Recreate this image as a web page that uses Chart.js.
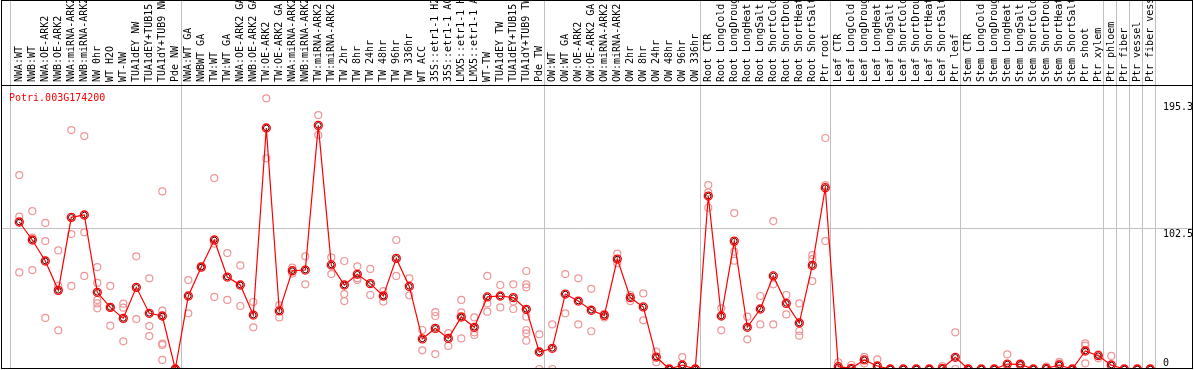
<!DOCTYPE html>
<html>
<head>
<meta charset="utf-8">
<script src="https://cdn.jsdelivr.net/npm/chart.js@4/dist/chart.umd.min.js"></script>
<style>
  body { margin: 0; background: #fff; }
  canvas { display: block; }
</style>
</head>
<body>
<canvas id="expr" width="1194" height="370"></canvas>
<script>
const geneName = 'Potri.003G174200'

const categories = [
    'NWA:WT', 'NWB:WT', 'NWA:OE-ARK2', 'NWB:OE-ARK2', 'NWA:miRNA-ARK2', 'NWB:miRNA-ARK2',
    'NW 0hr', 'WT H2O', 'WT-NW', 'TUA1dEY NW', 'TUA1dEY+TUB15', 'TUA1dY+TUB9 NW', 'Pde NW',
    'NWA:WT GA', 'NWBWT GA', 'TW:WT', 'TW:WT GA', 'NWA:OE-ARK2 GA', 'NWB:OE-ARK2 GA',
    'TW:OE-ARK2', 'TW:OE-ARK2 GA', 'NWA:miRNA-ARK2', 'NWB:miRNA-ARK2', 'TW:miRNA-ARK2',
    'TW:miRNA-ARK2', 'TW 2hr', 'TW 8hr', 'TW 24hr', 'TW 48hr', 'TW 96hr', 'TW 336hr',
    'WT ACC', '35S::etr1-1 H2', '35S::etr1-1 AC', 'LMX5::etr1-1 H', 'LMX5::etr1-1 A',
    'WT-TW', 'TUA1dEY TW', 'TUA1dEY+TUB15', 'TUA1dY+TUB9 TW', 'Pde TW',
    'OW:WT', 'OW:WT GA', 'OW:OE-ARK2', 'OW:OE-ARK2 GA', 'OW:miRNA-ARK2', 'OW:miRNA-ARK2',
    'OW 2hr', 'OW 8hr', 'OW 24hr', 'OW 48hr', 'OW 96hr', 'OW 336hr',
    'Root CTR', 'Root LongCold', 'Root LongDroug', 'Root LongHeat', 'Root LongSalt',
    'Root ShortCold', 'Root ShortDrou', 'Root ShortHeat', 'Root ShortSalt', 'Ptr root',
    'Leaf CTR', 'Leaf LongCold', 'Leaf LongDroug', 'Leaf LongHeat', 'Leaf LongSalt',
    'Leaf ShortCold', 'Leaf ShortDrou', 'Leaf ShortHeat', 'Leaf ShortSalt', 'Ptr leaf',
    'Stem CTR', 'Stem LongCold', 'Stem LongDroug', 'Stem LongHeat', 'Stem LongSalt',
    'Stem ShortCold', 'Stem ShortDrou', 'Stem ShortHeat', 'Stem ShortSalt',
    'Ptr shoot', 'Ptr xylem', 'Ptr phloem', 'Ptr fiber', 'Ptr vessel', 'Ptr fiber vess'
]

// mean expression per sample (drawn as the red line)
const meanValues = [
    107.1, 94.0, 78.7, 57.3, 110.5, 112.2, 55.9, 44.9, 36.9, 59.5, 40.6, 38.6, 0,
    53.2, 74.3, 94.0, 67.0, 61.2, 39.3, 175.6, 42.3, 71.6, 72.1, 177.5, 75.8, 61.2,
    69.0, 62.2, 53.2, 80.6, 60.2, 21.9, 29.6, 22.3, 37.9, 30.4, 52.5, 53.2, 52.0, 43.5, 12.4,
    15.1, 54.6, 49.5, 42.8, 39.1, 80.1, 52.0, 45.2, 8.7, 0, 2.9, 0,
    126.0, 38.6, 93.2, 30.4, 43.7, 67.8, 47.8, 33.5, 75.5, 132.1,
    1.7, 0.5, 6.6, 2.2, 0, 0, 0, 0, 0.5, 8.5,
    0, 0, 0, 3.6, 3.4, 0, 0.5, 2.9, 0,
    13.1, 9.7, 2.9, 0, 0, 0
]

// single replicates per sample (light circles)
const replicateValues = [
    [141.3, 111.0, 70.4], [115.1, 95.7, 72.1], [106.4, 93.2, 37.2], [86.4, 60.5, 28.2],
    [174.1, 98.3, 60.5], [169.7, 99.6, 67.8], [74.3, 62.7, 50.3, 47.8, 44.2], [60.5, 44.9, 31.6],
    [47.6, 44.7, 20.2], [82.1, 36.4], [66.1, 31.3, 24.0], [129.4, 42.5, 18.5, 17.5, 6.6], [0, 0],
    [64.8, 40.6], [75.0, 73.8], [139.1, 91.3, 52.5], [84.5, 50.3], [75.5, 45.9], [48.8, 30.4],
    [197.2, 153.5], [46.6, 37.6], [73.8, 69.5], [82.1, 61.7], [185.0, 170.5], [81.3, 69.2],
    [78.7, 54.6, 49.5], [74.8, 66.1, 64.8], [72.9, 53.9], [56.8, 49.1], [94.0, 67.8], [66.1, 53.7],
    [28.4, 13.6], [41.5, 38.6, 10.9], [26.2, 16.8], [50.3, 41.3, 22.3], [37.6, 26.7, 24.8],
    [67.8, 47.8, 41.8], [61.2, 44.9], [61.7, 49.1, 43.7], [71.4, 61.7, 59.5, 38.1, 28.4, 26.0, 20.6],
    [25.3, 0], [32.5, 0], [69.2, 40.6], [66.1, 32.5], [58.4, 27.5], [40.1, 37.6], [84.0, 77.0],
    [53.9, 49.5], [55.1, 35.5], [12.6, 4.9], [0, 0], [8.7, 0], [0, 0],
    [134.0, 128.7, 117.5], [44.2, 28.2], [113.6, 85.5, 78.9], [38.1, 21.6], [53.2, 32.5],
    [107.8, 61.7, 32.5], [53.9, 39.8], [47.8, 27.7, 24.3], [83.0, 80.1, 64.1], [168.3, 134.0, 93.2],
    [4.9, 0], [2.9, 0], [8.9, 4.1], [7.0, 0], [0, 0], [0, 0], [0, 0], [0, 0], [2.2, 0], [26.7, 0],
    [0, 0], [0, 0], [0, 0], [10.7, 0], [4.1, 2.7], [0, 0], [1.7, 0], [5.3, 4.1], [0, 0],
    [18.7, 17.0, 4.1], [10.7, 7.8], [9.5, 0], [0, 0], [0, 0], [0, 0]
]

const yTickValues = [0, 102.5, 195.3]
const groupSeparators = [-0.7, 12.4, 40.4, 52.4, 62.4, 72.4, 83.4, 84.4, 85.4, 86.4, 87.4]

const monoFont = { family: '"DejaVu Sans Mono", monospace', size: 10 }
const gridGray = 'rgb(192,192,192)'

let meanPoints = meanValues.map((v, i) => ({ x: i, y: v }))
let replicatePoints = []
for (let i = 0; i < replicateValues.length; i++) {
    for (let v of replicateValues[i]) {
        replicatePoints.push({ x: i, y: v })
    }
}

// the value labels sit just below their line, except 0 which sits above it
function yTickLabel(v) {
    if (v === 0) return ['0', '']
    return ['', String(v)]
}

const framePlugin = {
    id: 'frame',
    beforeDraw(chart) {
        const ctx = chart.ctx
        ctx.save()
        ctx.fillStyle = '#fff'
        ctx.fillRect(0, 0, chart.width, chart.height)
        ctx.restore()
    },
    beforeDatasetsDraw(chart) {
        const ctx = chart.ctx
        const xs = chart.scales.x
        ctx.save()
        ctx.strokeStyle = gridGray
        ctx.lineWidth = 1
        for (let v of groupSeparators) {
            let px = Math.round(xs.getPixelForValue(v)) + 0.5
            ctx.beginPath()
            ctx.moveTo(px, 0)
            ctx.lineTo(px, chart.chartArea.bottom)
            ctx.stroke()
        }
        ctx.restore()
    },
    afterDraw(chart) {
        const ctx = chart.ctx
        const area = chart.chartArea
        ctx.save()
        ctx.strokeStyle = '#000'
        ctx.lineWidth = 1
        ctx.strokeRect(1.5, 0.5, 1191, 368)
        ctx.beginPath()
        ctx.moveTo(1, area.top - 0.5)
        ctx.lineTo(1193, area.top - 0.5)
        ctx.stroke()
        ctx.fillStyle = 'rgb(255,0,0)'
        ctx.font = '10px "DejaVu Sans Mono", monospace'
        ctx.textBaseline = 'alphabetic'
        ctx.fillText(geneName, 9, area.top + 15)
        ctx.restore()
    }
}

const exprConfig = {
    type: 'line',
    data: {
        datasets: [{
            label: 'mean',
            data: meanPoints,
            borderColor: 'rgb(255,0,0)',
            borderWidth: 1.2,
            pointRadius: 4,
            pointBorderWidth: 1.3,
            pointBorderColor: 'rgb(255,0,0)',
            pointBackgroundColor: 'rgba(0,0,0,0)',
            tension: 0
        }, {
            // dark inner ring of the mean markers
            label: 'mean inner',
            data: meanPoints,
            showLine: false,
            pointRadius: 2.8,
            pointBorderWidth: 1,
            pointBorderColor: 'rgb(60,0,0)',
            pointBackgroundColor: 'rgba(0,0,0,0)'
        }, {
            label: 'replicates',
            data: replicatePoints,
            showLine: false,
            pointRadius: 3.5,
            pointBorderWidth: 1.2,
            pointBorderColor: 'rgb(238,150,150)',
            pointBackgroundColor: 'rgba(0,0,0,0)'
        }]
    },
    options: {
        responsive: false,
        animation: false,
        layout: { autoPadding: false, padding: { left: 1, right: 2, top: 0, bottom: 1 } },
        plugins: { legend: { display: false }, tooltip: { enabled: false } },
        scales: {
            x: {
                type: 'linear',
                position: 'top',
                min: -1.408,
                max: 87.44,
                afterBuildTicks: (s) => { s.ticks = categories.map((c, i) => ({ value: i })) },
                afterFit: (s) => {
                    s.height = 86
                    s.paddingLeft = 0
                    s.paddingRight = 0
                },
                grid: { display: false, drawTicks: false },
                border: { display: false },
                ticks: {
                    autoSkip: false,
                    minRotation: 90,
                    maxRotation: 90,
                    padding: 4,
                    labelOffset: 12,
                    color: '#000',
                    font: monoFont,
                    callback: (v) => categories[v]
                }
            },
            y: {
                position: 'right',
                min: 0,
                max: 206.2,
                afterBuildTicks: (s) => { s.ticks = yTickValues.map(v => ({ value: v })) },
                afterFit: (s) => {
                    s.width = 36
                    s.paddingTop = 0
                    s.paddingBottom = 0
                },
                grid: {
                    color: (c) => (c.tick && c.tick.value === 102.5) ? gridGray : 'rgba(0,0,0,0)',
                    tickLength: 36
                },
                border: { display: false },
                ticks: {
                    padding: -29,
                    color: '#000',
                    font: { family: monoFont.family, size: 10, lineHeight: 1.2 },
                    callback: (v) => yTickLabel(v)
                }
            }
        }
    },
    plugins: [framePlugin]
}

const exprChart = new Chart(document.getElementById('expr'), exprConfig)
</script>
</body>
</html>
